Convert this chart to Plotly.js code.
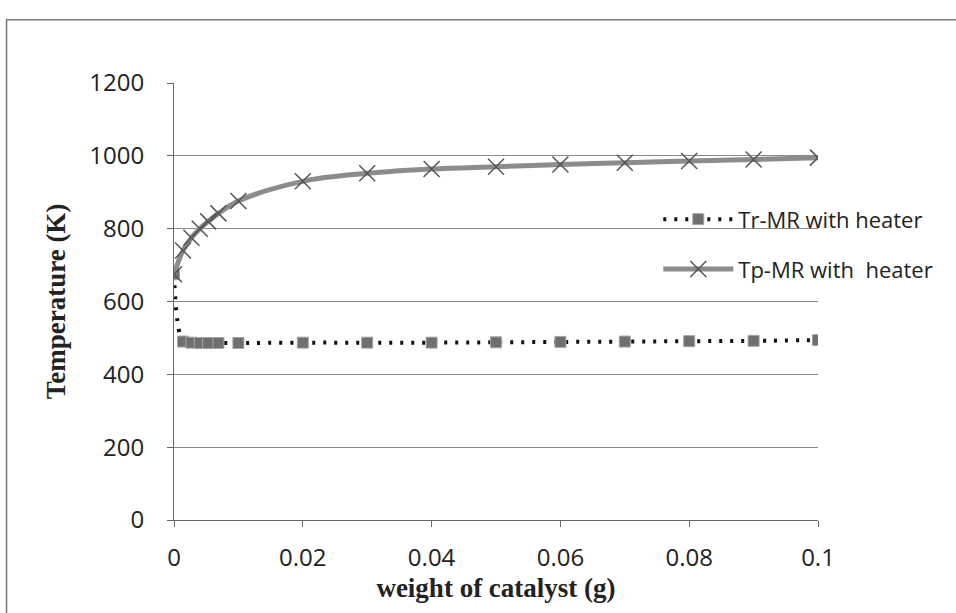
<!DOCTYPE html>
<html>
<head>
<meta charset="utf-8">
<script src="https://cdn.plot.ly/plotly-3.0.1.min.js"></script>
<style>html,body{margin:0;padding:0;background:#fff;}#chart{width:956px;height:613px;}</style>
</head>
<body>
<div id="chart"></div>
<script>
// Data
const xTr = [0, 0.0014, 0.0027, 0.004, 0.0053, 0.0069, 0.01, 0.02, 0.03, 0.04, 0.05, 0.06, 0.07, 0.08, 0.09, 0.1];
const yTr = [675, 490, 487, 486, 486, 486, 486, 487, 487, 487, 488, 489, 490, 491, 492, 494];
const xTp = [0, 0.0014, 0.0027, 0.004, 0.0053, 0.0069, 0.01, 0.02, 0.03, 0.04, 0.05, 0.06, 0.07, 0.08, 0.09, 0.1];
const yTp = [675, 740, 775, 800, 820, 842, 876, 930, 952, 964, 970, 976, 981, 986, 990, 995];
const seriesNames = ["Tr-MR with heater", "Tp-MR with  heater"];
const yTicks = [0, 200, 400, 600, 800, 1000, 1200];
const xTicks = [0, 0.02, 0.04, 0.06, 0.08, 0.1];
const xTickText = ["0", "0.02", "0.04", "0.06", "0.08", "0.1"];

const traces = [
  {
    x: xTr, y: yTr, name: seriesNames[0], type: 'scatter', mode: 'lines+markers', legend: 'legend',
    line: {color: '#111', width: 4, dash: '3px,8px', shape: 'spline'},
    marker: {symbol: 'square', size: 11, color: '#6f6f6f', line: {color: '#a5a5a5', width: 1}}
  },
  {
    x: xTp, y: yTp, name: seriesNames[1], type: 'scatter', mode: 'lines+markers', legend: 'legend2',
    line: {color: '#8c8c8c', width: 5, shape: 'spline'},
    marker: {symbol: 'x-thin', size: 16, color: '#555', line: {color: '#555', width: 1.5}}
  }
];

const legFont = {family: 'Open Sans, Liberation Sans, sans-serif', size: 22, color: '#222'};
const serifBold = {family: 'Liberation Serif, Times New Roman, serif', size: 27, color: '#222', weight: 'bold'};

const layout = {
  width: 956, height: 613,
  margin: {l: 174, r: 138, t: 83, b: 93},
  paper_bgcolor: '#fff', plot_bgcolor: 'rgba(0,0,0,0)',
  font: {family: 'Open Sans, Liberation Sans, sans-serif', color: '#222'},
  showlegend: true,
  legend: {
    x: 0.752, y: 0.688, xanchor: 'left', yanchor: 'middle',
    bgcolor: 'rgba(0,0,0,0)', itemwidth: 70, font: legFont
  },
  legend2: {
    x: 0.752, y: 0.574, xanchor: 'left', yanchor: 'middle',
    bgcolor: 'rgba(0,0,0,0)', itemwidth: 70, font: legFont
  },
  xaxis: {
    range: [0, 0.1], tickvals: xTicks, ticktext: xTickText,
    showgrid: false, zeroline: false, showline: true, linecolor: '#666', linewidth: 1,
    ticks: 'outside', ticklen: 6, tickcolor: '#666', ticklabelstandoff: 10,
    tickfont: {size: 24, color: '#222'},
    title: {text: 'weight of catalyst (g)', standoff: 3, font: serifBold}
  },
  yaxis: {
    range: [0, 1200], tickvals: yTicks,
    showgrid: true, gridcolor: '#8a8a8a', gridwidth: 1,
    zeroline: false, showline: true, linecolor: '#666', linewidth: 1,
    ticks: 'outside', ticklen: 6, tickcolor: '#666', ticklabelstandoff: 18,
    tickfont: {size: 24, color: '#222'},
    title: {text: 'Temperature (K)', standoff: 15, font: serifBold}
  },
  shapes: [
    {type: 'rect', xref: 'paper', yref: 'paper', x0: -0.26, x1: 1.5, y0: -0.4, y1: 1.145,
     line: {color: '#777', width: 1.5}, fillcolor: 'rgba(0,0,0,0)', layer: 'below'}
  ]
};

Plotly.newPlot('chart', traces, layout, {displayModeBar: false, staticPlot: true});
</script>
</body>
</html>
